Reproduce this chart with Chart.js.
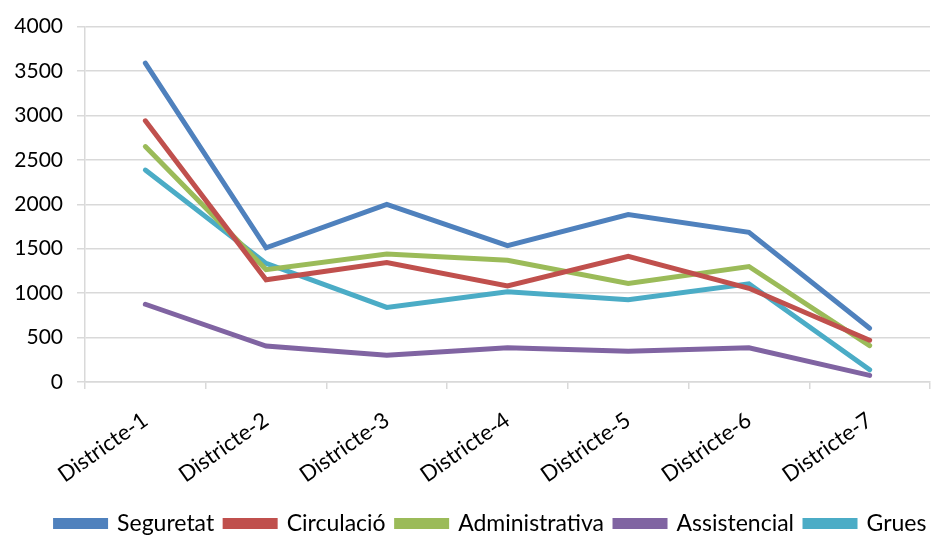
<!DOCTYPE html>
<html>
<head>
<meta charset="utf-8">
<script src="https://cdn.jsdelivr.net/npm/chart.js@4"></script>
<style>
  html, body { margin: 0; padding: 0; background: #fff; }
  #wrap { width: 932px; height: 538px; }
</style>
</head>
<body>
<div id="wrap"><canvas id="districtChart" width="932" height="538"></canvas></div>
<script>
// --- DATA ---
const districts = ['Districte-1', 'Districte-2', 'Districte-3', 'Districte-4', 'Districte-5', 'Districte-6', 'Districte-7'];
const seguretat      = [3590, 1510, 2000, 1535, 1885, 1685, 605];
const circulacio     = [2940, 1150, 1345, 1080, 1415, 1055, 470];
const administrativa = [2650, 1265, 1440, 1370, 1110, 1300, 410];
const assistencial   = [875, 405, 300, 385, 345, 385, 75];
const grues          = [2385, 1335, 840, 1015, 927, 1105, 138];
const yTicks = [0, 500, 1000, 1500, 2000, 2500, 3000, 3500, 4000];

const seriesColors = {
    seguretat: '#4f81bd',
    circulacio: '#c0504d',
    administrativa: '#9bbb59',
    assistencial: '#8064a2',
    grues: '#4bacc6'
};

function lineSet(label, data, color) {
    return {
        label: label,
        data: data,
        borderColor: color,
        backgroundColor: color,
        borderWidth: 5,
        pointRadius: 0,
        tension: 0,
        borderCapStyle: 'round',
        borderJoinStyle: 'miter'
    };
}

const fontFamily = "Lato, 'Liberation Sans', sans-serif";

// nudge the legend row to where the original sits (lower and a bit right)
const legendNudge = {
    id: 'legendNudge',
    afterLayout(chart) {
        const lg = chart.legend;
        if (!lg) return;
        lg.top += 7; lg.bottom += 7;
        lg.left += 26; lg.right += 26;
    }
};

new Chart(document.getElementById('districtChart').getContext('2d'), {
    type: 'line',
    data: {
        labels: districts,
        datasets: [
            lineSet('Seguretat', seguretat, seriesColors.seguretat),
            lineSet('Circulació', circulacio, seriesColors.circulacio),
            lineSet('Administrativa', administrativa, seriesColors.administrativa),
            lineSet('Assistencial', assistencial, seriesColors.assistencial),
            lineSet('Grues', grues, seriesColors.grues)
        ]
    },
    options: {
        responsive: false,
        animation: false,
        layout: { padding: { top: 24, right: 2, left: 0, bottom: 0 } },
        scales: {
            x: {
                offset: true,
                grid: { offset: true, drawOnChartArea: false, drawTicks: true, tickLength: 7, color: '#d9d9d9', lineWidth: 1.5 },
                border: { display: true, color: '#d9d9d9', width: 1.5 },
                ticks: { color: '#000', font: { family: fontFamily, size: 22 }, minRotation: 35, maxRotation: 35, padding: 18, autoSkip: false },
                afterFit: s => { s.height = 112; }
            },
            y: {
                min: 0,
                max: 4000,
                afterBuildTicks: s => { s.ticks = yTicks.map(v => ({ value: v })); },
                grid: { color: '#d9d9d9', lineWidth: 1.5, tickLength: 8 },
                border: { display: true, color: '#d9d9d9', width: 1.5 },
                ticks: { color: '#000', font: { family: fontFamily, size: 21 }, padding: 14, callback: v => String(v) },
                afterFit: s => { s.width = 85; }
            }
        },
        plugins: {
            tooltip: { enabled: false },
            legend: {
                position: 'bottom',
                labels: {
                    color: '#000',
                    font: { family: fontFamily, size: 23 },
                    boxWidth: 50,
                    boxHeight: 6,
                    padding: 11
                }
            }
        }
    },
    plugins: [legendNudge]
});
</script>
</body>
</html>
